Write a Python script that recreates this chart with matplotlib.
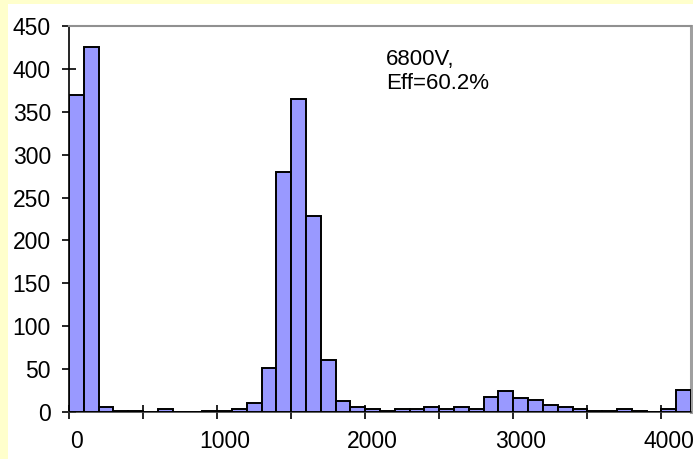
import matplotlib.pyplot as plt
from matplotlib.patches import Rectangle

# histogram bins (left label of each 100-wide channel) and counts
bins = list(range(0, 4200, 100))
counts = [370, 425, 6, 1, 1, 0, 3, 0, 0, 1,
          1, 3, 10, 51, 280, 365, 229, 61, 13, 6,
          3, 1, 3, 3, 6, 3, 6, 3, 18, 24,
          16, 14, 8, 6, 3, 1, 1, 3, 1, 0,
          3, 26]
label_text = "6800V,\nEff=60.2%"
xtick_labels = [0, 1000, 2000, 3000, 4000]

plt.rcParams['font.family'] = ['Liberation Sans', 'DejaVu Sans']

fig = plt.figure(figsize=(6.93, 4.59), dpi=100)
fig.patch.set_facecolor('#FFFFCC')
# white chart area inside the yellow frame
fig.patches.append(Rectangle((8 / 693, 0), 1, 1 - 4 / 459, transform=fig.transFigure,
                             facecolor='white', edgecolor='none', zorder=-10))

ax = fig.add_axes([69 / 693, 1 - 412 / 459, 622 / 693, 386 / 459])
ax.set_facecolor('white')
ax.bar(bins, counts, width=100, align='center', color='#9999FF',
       edgecolor='black', linewidth=1.4, zorder=3)

ax.set_xlim(-50, 4150)
ax.set_ylim(0, 450)
ax.set_yticks(range(0, 451, 50))
# tick marks between categories every 500, labels every 1000
ax.set_xticks([b - 50 for b in range(0, 4200, 500)])
ax.set_xticklabels([])
ax.set_xticks(xtick_labels, minor=True)
ax.set_xticklabels([str(v) for v in xtick_labels], minor=True)
ax.tick_params(axis='x', which='minor', length=0, labelsize=16.5, pad=13)
ax.tick_params(axis='x', which='major', direction='inout', length=10, width=1.2)
ax.tick_params(axis='y', direction='inout', length=10, width=1.2, labelsize=16.5, pad=8)

ax.spines['left'].set_color('black')
ax.spines['left'].set_linewidth(1.2)
ax.spines['bottom'].set_color('#404040')
ax.spines['bottom'].set_linewidth(1.2)
ax.spines['top'].set_color('#909090')
ax.spines['top'].set_linewidth(1.5)
ax.spines['right'].set_color('#A0A0A0')
ax.spines['right'].set_linewidth(2.2)

ax.text(0.51, 0.94, label_text, transform=ax.transAxes, fontsize=16,
        va='top', ha='left', linespacing=1.2)

fig.savefig('out.png', dpi=100, facecolor=fig.get_facecolor())
